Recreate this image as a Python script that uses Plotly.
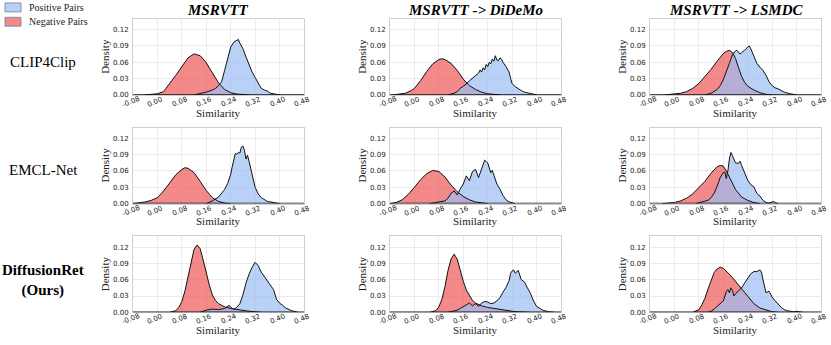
"""Similarity distributions of positive / negative pairs (3 models x 3 test settings)."""

import plotly.graph_objects as go

W, H = 831, 345

MODELS = ['CLIP4Clip', 'EMCL-Net', '<b>DiffusionRet<br>(Ours)</b>']
SETTINGS = ['MSRVTT', 'MSRVTT -> DiDeMo', 'MSRVTT -> LSMDC']

X_TICKS = [-0.08, 0.00, 0.08, 0.16, 0.24, 0.32, 0.40, 0.48]
X_TICK_LABELS = ['-0.08', '0.00', '0.08', '0.16', '0.24', '0.32', '0.40', '0.48']
Y_TICKS = [0.00, 0.03, 0.06, 0.09, 0.12]
Y_TICK_LABELS = ['0.00', '0.03', '0.06', '0.09', '0.12']

# --- CLIP4Clip ---
clip_msrvtt_neg_x = [-0.04, -0.02, 0.00, 0.02, 0.04, 0.06, 0.08, 0.10, 0.12, 0.14, 0.16, 0.18, 0.20, 0.22, 0.24, 0.26, 0.28, 0.30]
clip_msrvtt_neg_y = [0.000, 0.001, 0.002, 0.006, 0.020, 0.036, 0.052, 0.068, 0.0755, 0.072, 0.059, 0.041, 0.022, 0.010, 0.004, 0.0015, 0.0005, 0.000]
clip_msrvtt_pos_x = [0.12, 0.14, 0.16, 0.18, 0.19, 0.20, 0.21, 0.22, 0.23, 0.24, 0.25, 0.26, 0.265, 0.27, 0.28, 0.29, 0.30, 0.31, 0.32, 0.33, 0.34, 0.35, 0.36, 0.37, 0.38, 0.40]
clip_msrvtt_pos_y = [0.000, 0.002, 0.005, 0.009, 0.012, 0.017, 0.024, 0.045, 0.068, 0.088, 0.097, 0.100, 0.102, 0.095, 0.085, 0.070, 0.055, 0.042, 0.032, 0.022, 0.012, 0.009, 0.007, 0.003, 0.002, 0.000]

clip_didemo_neg_x = [-0.07, -0.05, -0.03, -0.01, 0.00, 0.02, 0.04, 0.06, 0.08, 0.09, 0.10, 0.12, 0.14, 0.16, 0.18, 0.20, 0.22, 0.24, 0.26, 0.28]
clip_didemo_neg_y = [0.000, 0.001, 0.003, 0.008, 0.012, 0.026, 0.043, 0.057, 0.065, 0.0665, 0.065, 0.058, 0.045, 0.029, 0.017, 0.010, 0.005, 0.002, 0.001, 0.000]
clip_didemo_pos_x = [0.11, 0.13, 0.14, 0.15, 0.16, 0.17, 0.18, 0.19, 0.20, 0.21, 0.215, 0.22, 0.225, 0.23, 0.235, 0.24, 0.245, 0.25, 0.255, 0.26, 0.265, 0.27, 0.275, 0.28, 0.285, 0.29, 0.30, 0.31, 0.315, 0.32, 0.33, 0.34, 0.35, 0.36, 0.38, 0.40]
clip_didemo_pos_y = [0.000, 0.003, 0.006, 0.012, 0.016, 0.020, 0.026, 0.031, 0.036, 0.040, 0.046, 0.042, 0.050, 0.046, 0.056, 0.052, 0.060, 0.057, 0.066, 0.062, 0.072, 0.064, 0.063, 0.068, 0.066, 0.060, 0.052, 0.042, 0.030, 0.021, 0.015, 0.011, 0.008, 0.005, 0.002, 0.000]

clip_lsmdc_neg_x = [-0.03, 0.00, 0.02, 0.04, 0.06, 0.08, 0.10, 0.12, 0.14, 0.16, 0.17, 0.18, 0.19, 0.20, 0.21, 0.22, 0.23, 0.24, 0.26, 0.28, 0.30, 0.32]
clip_lsmdc_neg_y = [0.000, 0.001, 0.003, 0.006, 0.012, 0.021, 0.033, 0.047, 0.062, 0.076, 0.080, 0.082, 0.078, 0.067, 0.050, 0.034, 0.023, 0.016, 0.009, 0.004, 0.001, 0.000]
clip_lsmdc_pos_x = [0.10, 0.12, 0.14, 0.15, 0.16, 0.17, 0.18, 0.19, 0.20, 0.205, 0.21, 0.215, 0.22, 0.23, 0.24, 0.245, 0.25, 0.26, 0.27, 0.28, 0.29, 0.30, 0.31, 0.32, 0.33, 0.34, 0.35, 0.36, 0.38, 0.40]
clip_lsmdc_pos_y = [0.000, 0.003, 0.010, 0.017, 0.028, 0.042, 0.058, 0.074, 0.081, 0.082, 0.078, 0.075, 0.078, 0.082, 0.088, 0.090, 0.085, 0.070, 0.058, 0.051, 0.045, 0.036, 0.024, 0.017, 0.013, 0.011, 0.008, 0.005, 0.002, 0.000]

# --- EMCL-Net ---
emcl_msrvtt_neg_x = [-0.08, -0.06, -0.04, -0.02, 0.00, 0.02, 0.04, 0.06, 0.08, 0.09, 0.10, 0.12, 0.14, 0.16, 0.18, 0.20, 0.22, 0.24]
emcl_msrvtt_neg_y = [0.000, 0.001, 0.003, 0.006, 0.011, 0.023, 0.039, 0.053, 0.063, 0.066, 0.065, 0.057, 0.041, 0.024, 0.011, 0.004, 0.001, 0.000]
emcl_msrvtt_pos_x = [0.16, 0.18, 0.20, 0.21, 0.22, 0.23, 0.24, 0.245, 0.25, 0.255, 0.26, 0.265, 0.27, 0.275, 0.28, 0.285, 0.29, 0.295, 0.30, 0.305, 0.31, 0.32, 0.33, 0.34, 0.36, 0.38, 0.40]
emcl_msrvtt_pos_y = [0.000, 0.005, 0.012, 0.018, 0.026, 0.037, 0.054, 0.068, 0.084, 0.092, 0.091, 0.094, 0.093, 0.104, 0.106, 0.098, 0.082, 0.089, 0.078, 0.066, 0.050, 0.030, 0.018, 0.011, 0.004, 0.002, 0.000]

emcl_didemo_neg_x = [-0.08, -0.06, -0.04, -0.02, 0.00, 0.02, 0.04, 0.06, 0.08, 0.10, 0.12, 0.14, 0.16, 0.18, 0.20, 0.22, 0.24]
emcl_didemo_neg_y = [0.000, 0.002, 0.007, 0.017, 0.030, 0.044, 0.055, 0.061, 0.059, 0.049, 0.034, 0.022, 0.013, 0.007, 0.003, 0.001, 0.000]
emcl_didemo_pos_x = [0.05, 0.08, 0.10, 0.11, 0.12, 0.13, 0.14, 0.15, 0.16, 0.17, 0.18, 0.19, 0.20, 0.21, 0.22, 0.23, 0.24, 0.25, 0.255, 0.265, 0.27, 0.28, 0.29, 0.30, 0.31, 0.33]
emcl_didemo_pos_y = [0.000, 0.003, 0.005, 0.010, 0.019, 0.023, 0.016, 0.027, 0.036, 0.051, 0.042, 0.059, 0.063, 0.048, 0.066, 0.080, 0.075, 0.057, 0.061, 0.045, 0.036, 0.027, 0.015, 0.007, 0.003, 0.000]

emcl_lsmdc_neg_x = [-0.04, -0.02, 0.00, 0.02, 0.04, 0.06, 0.08, 0.10, 0.12, 0.14, 0.15, 0.16, 0.17, 0.18, 0.19, 0.20, 0.22, 0.24, 0.26, 0.28]
emcl_lsmdc_neg_y = [0.000, 0.001, 0.002, 0.005, 0.010, 0.018, 0.029, 0.041, 0.056, 0.068, 0.070, 0.069, 0.060, 0.048, 0.035, 0.026, 0.012, 0.006, 0.002, 0.000]
emcl_lsmdc_pos_x = [0.07, 0.09, 0.11, 0.12, 0.13, 0.14, 0.15, 0.16, 0.165, 0.17, 0.175, 0.18, 0.185, 0.19, 0.20, 0.21, 0.215, 0.22, 0.23, 0.24, 0.25, 0.26, 0.27, 0.28, 0.29, 0.30, 0.31, 0.32, 0.325, 0.33, 0.34]
emcl_lsmdc_pos_y = [0.000, 0.003, 0.006, 0.011, 0.019, 0.032, 0.048, 0.057, 0.058, 0.046, 0.060, 0.082, 0.094, 0.088, 0.075, 0.074, 0.078, 0.070, 0.056, 0.043, 0.035, 0.031, 0.019, 0.014, 0.006, 0.002, 0.001, 0.003, 0.004, 0.002, 0.000]

# --- DiffusionRet ---
diff_msrvtt_neg_x = [0.04, 0.06, 0.07, 0.08, 0.09, 0.10, 0.11, 0.12, 0.13, 0.14, 0.15, 0.16, 0.17, 0.18, 0.19, 0.20, 0.22, 0.24, 0.26, 0.28, 0.30, 0.32, 0.34]
diff_msrvtt_neg_y = [0.000, 0.003, 0.009, 0.020, 0.039, 0.063, 0.092, 0.116, 0.124, 0.117, 0.096, 0.072, 0.050, 0.032, 0.022, 0.016, 0.010, 0.007, 0.005, 0.004, 0.002, 0.001, 0.000]
diff_msrvtt_pos_x = [0.14, 0.16, 0.18, 0.20, 0.22, 0.23, 0.235, 0.24, 0.25, 0.26, 0.27, 0.28, 0.29, 0.30, 0.31, 0.32, 0.33, 0.34, 0.35, 0.36, 0.37, 0.38, 0.39, 0.40, 0.41, 0.42, 0.44, 0.46]
diff_msrvtt_pos_y = [0.000, 0.004, 0.006, 0.005, 0.007, 0.010, 0.013, 0.009, 0.006, 0.009, 0.016, 0.032, 0.054, 0.070, 0.083, 0.092, 0.086, 0.074, 0.066, 0.058, 0.052, 0.042, 0.024, 0.017, 0.013, 0.008, 0.003, 0.000]

diff_didemo_neg_x = [0.05, 0.07, 0.08, 0.09, 0.10, 0.11, 0.12, 0.13, 0.14, 0.15, 0.16, 0.17, 0.18, 0.19, 0.20, 0.22, 0.24, 0.26, 0.28, 0.30, 0.32, 0.34, 0.36, 0.38]
diff_didemo_neg_y = [0.000, 0.003, 0.010, 0.024, 0.047, 0.077, 0.098, 0.107, 0.098, 0.077, 0.057, 0.041, 0.030, 0.022, 0.017, 0.012, 0.009, 0.007, 0.005, 0.003, 0.002, 0.001, 0.0005, 0.000]
diff_didemo_pos_x = [0.11, 0.13, 0.14, 0.15, 0.16, 0.17, 0.18, 0.19, 0.20, 0.21, 0.22, 0.23, 0.24, 0.25, 0.26, 0.27, 0.28, 0.29, 0.30, 0.31, 0.315, 0.32, 0.325, 0.33, 0.335, 0.34, 0.35, 0.36, 0.37, 0.38, 0.39, 0.40, 0.42, 0.44, 0.46]
diff_didemo_pos_y = [0.000, 0.002, 0.004, 0.007, 0.010, 0.014, 0.017, 0.012, 0.016, 0.011, 0.017, 0.020, 0.019, 0.016, 0.017, 0.021, 0.027, 0.037, 0.046, 0.058, 0.072, 0.076, 0.078, 0.072, 0.074, 0.077, 0.060, 0.056, 0.045, 0.035, 0.021, 0.011, 0.004, 0.001, 0.000]

diff_lsmdc_neg_x = [0.06, 0.07, 0.08, 0.09, 0.10, 0.11, 0.12, 0.13, 0.14, 0.15, 0.16, 0.17, 0.18, 0.19, 0.20, 0.21, 0.22, 0.23, 0.24, 0.25, 0.26, 0.28, 0.30, 0.32, 0.34]
diff_lsmdc_neg_y = [0.000, 0.002, 0.005, 0.014, 0.026, 0.043, 0.059, 0.073, 0.080, 0.083, 0.081, 0.076, 0.070, 0.064, 0.057, 0.050, 0.043, 0.035, 0.028, 0.022, 0.016, 0.008, 0.004, 0.001, 0.000]
diff_lsmdc_pos_x = [0.11, 0.12, 0.13, 0.14, 0.15, 0.16, 0.17, 0.175, 0.18, 0.185, 0.19, 0.195, 0.20, 0.21, 0.22, 0.23, 0.24, 0.25, 0.26, 0.27, 0.28, 0.285, 0.29, 0.30, 0.31, 0.32, 0.33, 0.34, 0.35, 0.36, 0.37, 0.39, 0.40, 0.41, 0.42]
diff_lsmdc_pos_y = [0.000, 0.002, 0.006, 0.011, 0.016, 0.021, 0.038, 0.042, 0.036, 0.045, 0.040, 0.030, 0.034, 0.040, 0.045, 0.054, 0.063, 0.071, 0.075, 0.075, 0.078, 0.074, 0.060, 0.036, 0.039, 0.028, 0.021, 0.014, 0.009, 0.005, 0.003, 0.001, 0.002, 0.001, 0.000]

PANELS = [
    [(clip_msrvtt_neg_x, clip_msrvtt_neg_y, clip_msrvtt_pos_x, clip_msrvtt_pos_y),
     (clip_didemo_neg_x, clip_didemo_neg_y, clip_didemo_pos_x, clip_didemo_pos_y),
     (clip_lsmdc_neg_x, clip_lsmdc_neg_y, clip_lsmdc_pos_x, clip_lsmdc_pos_y)],
    [(emcl_msrvtt_neg_x, emcl_msrvtt_neg_y, emcl_msrvtt_pos_x, emcl_msrvtt_pos_y),
     (emcl_didemo_neg_x, emcl_didemo_neg_y, emcl_didemo_pos_x, emcl_didemo_pos_y),
     (emcl_lsmdc_neg_x, emcl_lsmdc_neg_y, emcl_lsmdc_pos_x, emcl_lsmdc_pos_y)],
    [(diff_msrvtt_neg_x, diff_msrvtt_neg_y, diff_msrvtt_pos_x, diff_msrvtt_pos_y),
     (diff_didemo_neg_x, diff_didemo_neg_y, diff_didemo_pos_x, diff_didemo_pos_y),
     (diff_lsmdc_neg_x, diff_lsmdc_neg_y, diff_lsmdc_pos_x, diff_lsmdc_pos_y)],
]

NEG_FILL = 'rgba(239, 87, 88, 0.7)'
POS_FILL = 'rgba(155, 189, 244, 0.7)'
GRID = '#ebebeb'
FRAME = '#cfcfcf'
SERIF = 'Liberation Serif'
SANS = 'DejaVu Sans'

# plot-area boxes in pixels (left, right) / (top, bottom)
COL_PX = [(133, 304), (390, 561), (650, 821)]
ROW_PX = [(19, 96), (129, 206), (239, 316)]


def px_x(x):
    return x / W


def px_y(y):
    return 1 - y / H


def label(text, x, y, size, color='#222222', **kw):
    """Paper-anchored text placed by its centre, in pixel coordinates."""
    d = dict(text=text, x=px_x(x), y=px_y(y), xref='paper', yref='paper',
             xanchor='center', yanchor='middle', showarrow=False,
             font=dict(family=SERIF, size=size, color=color))
    d.update(kw)
    return d


fig = go.Figure()
shapes = []
annotations = []

for r in range(3):
    for c in range(3):
        n = r * 3 + c + 1
        suffix = '' if n == 1 else str(n)
        xa, ya = f'x{suffix}', f'y{suffix}'
        neg_x, neg_y, pos_x, pos_y = PANELS[r][c]

        # fills first, outlines on top so both edges stay visible
        fig.add_trace(go.Scatter(x=neg_x, y=neg_y, mode='lines', fill='tozeroy',
                                 fillcolor=NEG_FILL, line=dict(width=0, color=NEG_FILL),
                                 xaxis=xa, yaxis=ya, showlegend=False, hoverinfo='skip'))
        fig.add_trace(go.Scatter(x=pos_x, y=pos_y, mode='lines', fill='tozeroy',
                                 fillcolor=POS_FILL, line=dict(width=0, color=POS_FILL),
                                 xaxis=xa, yaxis=ya, showlegend=False, hoverinfo='skip'))
        for sx, sy in ((neg_x, neg_y), (pos_x, pos_y)):
            fig.add_trace(go.Scatter(x=sx, y=sy, mode='lines',
                                     line=dict(width=1, color='#111111'),
                                     xaxis=xa, yaxis=ya, showlegend=False))

        left, right = COL_PX[c]
        top, bottom = ROW_PX[r]
        fig.update_layout(**{
            f'xaxis{suffix}': dict(
                domain=[px_x(left), px_x(right)], anchor=ya, range=[-0.08, 0.48],
                tickvals=X_TICKS, showticklabels=False,
                showgrid=True, gridcolor=GRID, gridwidth=1, zeroline=False,
                showline=True, linecolor=FRAME, linewidth=1, mirror=True, ticks='',
            ),
            f'yaxis{suffix}': dict(
                domain=[px_y(bottom), px_y(top)], anchor=xa, range=[0, 0.14],
                tickvals=Y_TICKS, ticktext=Y_TICK_LABELS,
                tickfont=dict(family=SANS, size=7, color='#222222'),
                ticklabelstandoff=2,
                showgrid=True, gridcolor=GRID, gridwidth=1, zeroline=False,
                showline=True, linecolor=FRAME, linewidth=1, mirror=True, ticks='',
            ),
        })

        # slanted x tick labels sitting right under the axis, centred on each tick
        for tv, tt in zip(X_TICKS, X_TICK_LABELS):
            annotations.append(dict(text=tt, x=tv, y=0, xref=xa, yref=f'{ya} domain',
                                    xanchor='center', yanchor='middle',
                                    xshift=-2, yshift=-7,
                                    textangle=-22, showarrow=False,
                                    font=dict(family=SANS, size=7, color='#222222')))

        # black baseline along y = 0
        shapes.append(dict(type='line', xref=f'{xa} domain', yref=ya, x0=0, x1=1, y0=0, y1=0,
                           line=dict(color='#111111', width=1.5)))

        annotations.append(label('Density', left - 28, (top + bottom) / 2, 11, textangle=-90))
        annotations.append(label('Similarity', (left + right) / 2, bottom + 18, 11))

# column titles
for c, name in enumerate(SETTINGS):
    left, right = COL_PX[c]
    annotations.append(label(f'<b><i>{name.replace(">", "&gt;")}</i></b>',
                             (left + right) / 2, 10.5, 15, color='#000000'))

# row labels
ROW_LABEL_Y = [63, 172, 284]
for r, name in enumerate(MODELS):
    annotations.append(label(name, 43, ROW_LABEL_Y[r], 15, color='#000000'))

# legend (top-left)
for (fill, text, yc) in ((POS_FILL, 'Positive Pairs', 7.5), (NEG_FILL, 'Negative Pairs', 22)):
    shapes.append(dict(type='rect', xref='paper', yref='paper',
                       x0=px_x(5), x1=px_x(21), y0=px_y(yc - 4.5), y1=px_y(yc + 4.5),
                       fillcolor=fill, line=dict(color='#6f7f99', width=0.8)))
    annotations.append(label(text, 27, yc, 10, xanchor='left'))

fig.update_layout(
    width=W, height=H,
    margin=dict(l=0, r=0, t=0, b=0),
    paper_bgcolor='white', plot_bgcolor='white',
    shapes=shapes, annotations=annotations,
)

# the page body's default 8px margin would shift the whole figure
fig.write_html("out.html", config={'displayModeBar': False},
               post_script="document.body.style.margin = '0';")
